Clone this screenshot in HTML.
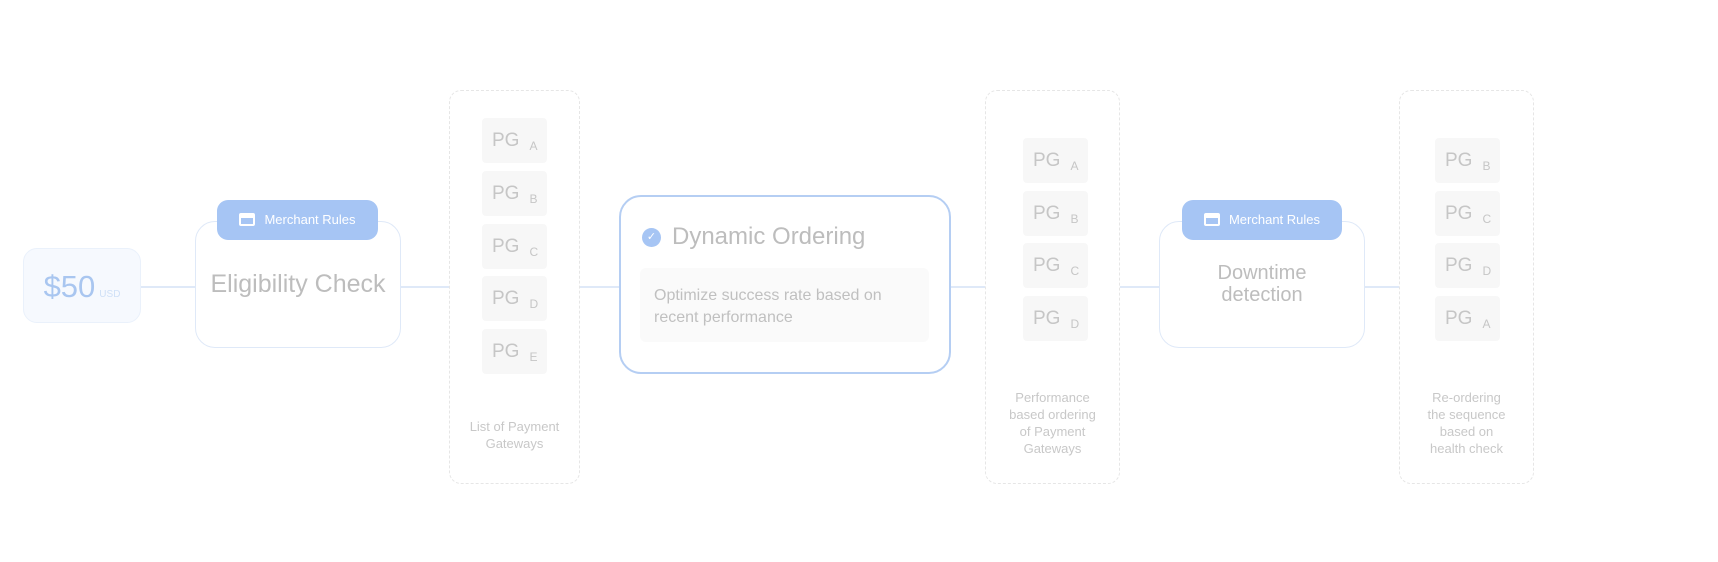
<!DOCTYPE html>
<html><head><meta charset="utf-8"><style>
body{margin:0;width:1718px;height:562px;background:#fff;position:relative;overflow:hidden;font-family:"Liberation Sans",sans-serif}
.a{position:absolute;box-sizing:border-box}
.line{position:absolute;height:2px;background:#dfe9f8;top:286px}
.cont{border:1.5px dashed #e6e6e6;border-radius:12px;top:90px;height:394px}
.pg{width:65px;height:45px;background:#f7f7f7;border-radius:4px;color:#c6c6c6;font-size:19px;line-height:45px;padding-left:10px}
.pg small{font-size:12px;margin-left:10px;position:relative;top:4px}
.cap{color:#c8c8c8;font-size:13px;line-height:17px;text-align:center}
.pill{background:#a6c5f4;border-radius:11px;color:#fff;font-size:13px;height:40px;line-height:40px;top:200px}
.ic{display:inline-block;width:16px;height:13px;border:2px solid #fff;border-top-width:5px;border-radius:2px;box-sizing:border-box;vertical-align:-2px;margin-right:9px}
</style></head><body>
<div class="line" style="left:141px;width:55px"></div>
<div class="line" style="left:401px;width:48px"></div>
<div class="line" style="left:580px;width:40px"></div>
<div class="line" style="left:951px;width:34px"></div>
<div class="line" style="left:1120px;width:40px"></div>
<div class="line" style="left:1365px;width:34px"></div>

<div class="a" style="left:23px;top:248px;width:118px;height:75px;background:#f6f9fe;border:1px solid #eaf1fb;border-radius:14px;color:#a9c6f0;text-align:center;line-height:75px"><span style="font-size:31px">$50</span><span style="font-size:10px;color:#cfe0f7;margin-left:4px">USD</span></div>

<div class="a" style="left:195px;top:221px;width:206px;height:127px;border:1.5px solid #dfe9f8;border-radius:20px;background:#fff"></div>
<div class="a" style="left:195px;top:270px;width:206px;text-align:center;font-size:25px;color:#bdbdbd">Eligibility Check</div>
<div class="a pill" style="left:217px;width:161px;text-align:center"><span class="ic"></span>Merchant Rules</div>

<div class="a cont" style="left:449px;width:131px"></div>
<div class="a pg" style="left:482px;top:118px">PG<small>A</small></div>
<div class="a pg" style="left:482px;top:171px">PG<small>B</small></div>
<div class="a pg" style="left:482px;top:224px">PG<small>C</small></div>
<div class="a pg" style="left:482px;top:276px">PG<small>D</small></div>
<div class="a pg" style="left:482px;top:329px">PG<small>E</small></div>
<div class="a cap" style="left:449px;width:131px;top:418px">List of Payment<br>Gateways</div>

<div class="a" style="left:619px;top:195px;width:332px;height:179px;border:2px solid #b5cef3;border-radius:22px;background:#fff"></div>
<div class="a" style="left:642px;top:228px;width:19px;height:19px;border-radius:50%;background:#a6c5f4;color:#fff;font-size:11px;text-align:center;line-height:19px">✓</div>
<div class="a" style="left:672px;top:223px;font-size:24px;color:#bdbdbd">Dynamic Ordering</div>
<div class="a" style="left:640px;top:268px;width:289px;height:74px;background:#fafafa;border-radius:6px"></div>
<div class="a" style="left:654px;top:285px;font-size:16px;line-height:22px;color:#c0c0c0">Optimize success rate based on<br>recent performance</div>

<div class="a cont" style="left:985px;width:135px"></div>
<div class="a pg" style="left:1023px;top:138px">PG<small>A</small></div>
<div class="a pg" style="left:1023px;top:191px">PG<small>B</small></div>
<div class="a pg" style="left:1023px;top:243px">PG<small>C</small></div>
<div class="a pg" style="left:1023px;top:296px">PG<small>D</small></div>
<div class="a cap" style="left:985px;width:135px;top:389px">Performance<br>based ordering<br>of Payment<br>Gateways</div>

<div class="a" style="left:1159px;top:221px;width:206px;height:127px;border:1.5px solid #dfe9f8;border-radius:20px;background:#fff"></div>
<div class="a" style="left:1159px;top:262px;width:206px;text-align:center;font-size:20px;line-height:22px;color:#bdbdbd">Downtime<br>detection</div>
<div class="a pill" style="left:1182px;width:160px;text-align:center"><span class="ic"></span>Merchant Rules</div>

<div class="a cont" style="left:1399px;width:135px"></div>
<div class="a pg" style="left:1435px;top:138px">PG<small>B</small></div>
<div class="a pg" style="left:1435px;top:191px">PG<small>C</small></div>
<div class="a pg" style="left:1435px;top:243px">PG<small>D</small></div>
<div class="a pg" style="left:1435px;top:296px">PG<small>A</small></div>
<div class="a cap" style="left:1399px;width:135px;top:389px">Re-ordering<br>the sequence<br>based on<br>health check</div>
</body></html>
